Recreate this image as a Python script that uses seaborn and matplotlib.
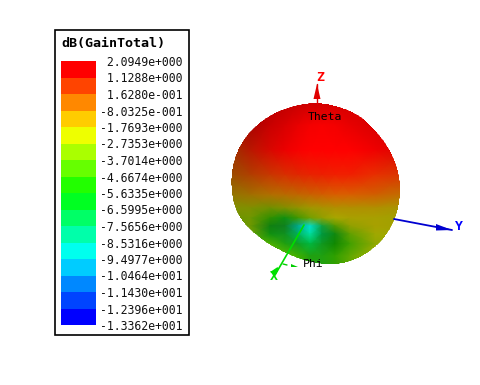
import numpy as np
import matplotlib
matplotlib.use("Agg")
import matplotlib.pyplot as plt
import seaborn as sns
from matplotlib.colors import ListedColormap, to_rgb
from matplotlib.path import Path
from matplotlib.patches import PathPatch, Rectangle, Polygon

title = "dB(GainTotal)"
levels = [2.0949, 1.1288, 0.1628, -0.80325, -1.7693, -2.7353, -3.7014, -4.6674, -5.6335,
          -6.5995, -7.5656, -8.5316, -9.4977, -10.464, -11.430, -12.396, -13.362]
level_labels = [" 2.0949e+000", " 1.1288e+000", " 1.6280e-001", "-8.0325e-001", "-1.7693e+000",
                "-2.7353e+000", "-3.7014e+000", "-4.6674e+000", "-5.6335e+000", "-6.5995e+000",
                "-7.5656e+000", "-8.5316e+000", "-9.4977e+000", "-1.0464e+001", "-1.1430e+001",
                "-1.2396e+001", "-1.3362e+001"]
band_colors = ["#ff0000", "#ff4400", "#ff8800", "#ffcc00", "#eeff00", "#aaff00", "#66ff00", "#22ff00",
               "#00ff22", "#00ff66", "#00ffaa", "#00ffee", "#00ccff", "#0088ff", "#0044ff", "#0000ff"]

# outline of the radiation pattern, picture pixels
outline_x = [317, 338, 358, 375, 388, 397, 400, 395, 388, 375, 358, 338, 318, 292, 275, 255, 238, 232, 232, 238, 250, 268, 292]
outline_y = [103, 107, 115, 131, 148, 168, 192, 218, 232, 247, 258, 264, 263, 255, 247, 233, 215, 192, 172, 150, 132, 117, 107]

# surface colours
surf_x = [228, 250, 270, 285, 298, 310, 322, 335, 350, 375, 404]
surf_y = [100, 125, 150, 175, 195, 208, 218, 226, 234, 244, 256, 270]
surf_colors = [
    "a80000 a80000 b40000 bc0000 c40000 c80000 cc0000 d00000 d00000 d00000 d00000",
    "9c1000 a80400 c80000 d80000 e80000 f40000 f80000 f40000 e80000 d80000 d00000",
    "983800 b81800 d80800 ec0000 f80000 ff0000 ff0000 ff0000 ff0000 f00000 d80800",
    "985000 b04000 c83800 d83000 e02800 e82400 ec2000 f02000 f02000 e83000 d83800",
    "907800 a07000 b07000 b86c00 c06800 c86400 d06000 d86000 d86000 d06000 c07000",
    "809000 809000 709000 809000 909400 a09800 a89400 b09000 b09000 b09000 a89800",
    "709000 709800 309000 109010 409800 70a000 90a000 a8a800 a8a000 a8a000 a0a000",
    "609800 709800 108010 108020 00a890 00e0d0 10a040 509800 90a000 a8a000 a0a000",
    "60a000 70a000 109010 109020 00b060 00e0a0 009840 108810 60a000 a0a800 a0a800",
    "60b000 60b000 50b000 20a010 10a020 00b840 109820 108800 40a000 90a800 a0b000",
    "70c000 70c000 70c000 60b800 40b000 20a010 20a010 30a000 60a800 a0b000 a0b000",
    "70c000 70c000 70c000 60b800 40b000 20a010 20a010 30a000 60a800 a0b000 a0b000",
]

sns.set_style("white")
plt.rcParams["font.family"] = ["DejaVu Sans Mono"]

W, H = 480, 385
fig = plt.figure(figsize=(W / 100, H / 100), dpi=100)

# whole figure in pixel coordinates
ax = fig.add_axes([0, 0, 1, 1])
ax.set_xlim(0, W)
ax.set_ylim(H, 0)
ax.axis("off")

# legend box
ax.add_patch(Rectangle((54.5, 29.5), 134.5, 305.5, fc="white", ec="black", lw=1.2))
ax.text(61, 43.5, title, fontsize=9.6, fontweight="bold", va="center", ha="left", color="black")

# colour key
cax = fig.add_axes([61 / W, 1 - 325 / H, 35 / W, 264 / H])
mids = (np.array(levels[:-1]) + np.array(levels[1:])) / 2
sns.heatmap(mids.reshape(-1, 1), ax=cax, cmap=ListedColormap(band_colors[::-1]),
            vmin=levels[-1], vmax=levels[0], cbar=False, xticklabels=False)
cax.yaxis.tick_right()
cax.set_yticks(np.arange(len(levels)))
cax.set_yticklabels(level_labels, rotation=0, fontsize=8.3, ha="right", color="#111111")
cax.tick_params(axis="y", length=0, pad=62.6)
for sp in cax.spines.values():
    sp.set_visible(False)

# pattern surface, clipped to a smoothed version of its outline
rgb = np.array([[to_rgb("#" + c) for c in row.split()] for row in surf_colors])
X, Y = np.meshgrid(surf_x, surf_y)
mesh = ax.pcolormesh(X, Y, rgb, shading="gouraud", antialiased=False, zorder=2)
cx, cy = 316.0, 184.0
ang = np.arctan2(np.array(outline_y) - cy, np.array(outline_x) - cx)
rad = np.hypot(np.array(outline_x) - cx, np.array(outline_y) - cy)
order = np.argsort(ang)
grid = np.linspace(-np.pi, np.pi, 720, endpoint=False)
dense = np.interp(grid, ang[order], rad[order], period=2 * np.pi)
win = np.hanning(61)
win = win / win.sum()
smooth = np.convolve(np.r_[dense[-60:], dense, dense[:60]], win, mode="same")[60:-60]
clip = PathPatch(Path(np.column_stack([cx + smooth * np.cos(grid), cy + smooth * np.sin(grid)]), closed=False),
                 transform=ax.transData, fc="none", ec="none")
ax.add_patch(clip)
mesh.set_clip_path(clip)

# coordinate axes
ax.plot([317, 317], [84, 104], color="#e00000", lw=1, zorder=3)
ax.add_patch(Polygon([(317, 84), (313.5, 99), (320.5, 99)], fc="#e00000", ec="none", zorder=3))
ax.text(320, 77.5, "Z", color="#ff0000", fontsize=9.5, fontweight="bold", ha="center", va="center", zorder=4)

ax.plot([394, 452], [219, 230], color="#0000d0", lw=1.3, zorder=3)
ax.add_patch(Polygon([(452, 230), (436, 224), (436, 230.5)], fc="#0000d0", ec="none", zorder=3))
ax.text(459, 227, "Y", color="#0000ff", fontsize=9.5, fontweight="bold", ha="center", va="center", zorder=4)

ax.plot([304, 275], [225, 275], color="#00dd00", lw=1.2, zorder=3)
ax.add_patch(Polygon([(278, 268), (272, 272), (275, 274)], fc="#00e000", ec="#00e000", lw=1.5, zorder=3))
ax.text(274, 276.5, "X", color="#00e000", fontsize=9.5, fontweight="bold", ha="center", va="center", zorder=4)

ax.plot([283, 287], [264, 265], color="#00cc00", lw=1, zorder=3)
ax.add_patch(Polygon([(298, 267), (291, 264), (291, 267)], fc="#00cc00", ec="none", zorder=3))
ax.text(303, 264, "Phi", color="black", fontsize=8.2, ha="left", va="center", zorder=4)
ax.text(308, 117, "Theta", color="black", fontsize=8.2, ha="left", va="center", zorder=4)

fig.savefig("out.png", dpi=100, facecolor="white")
